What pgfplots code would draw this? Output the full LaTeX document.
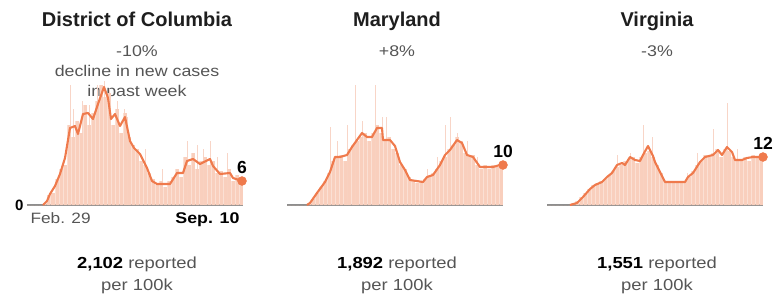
\documentclass[border=0pt]{standalone}
\usepackage{fontspec}
\setmainfont{Liberation Sans}[FakeStretch=1.15]
\newfontfamily\titlefont{Liberation Sans}
\usepackage{pgfplots}
\pgfplotsset{compat=1.18}
\definecolor{barc}{HTML}{F9CFBD}
\definecolor{spk}{HTML}{F8D5C7}
\definecolor{linec}{HTML}{EF7A4C}
\definecolor{basec}{HTML}{8E8E8E}
\definecolor{subc}{HTML}{555555}
\definecolor{titc}{HTML}{1E1E1E}
\pgfplotsset{panel/.style={scale only axis, width=216pt, height=132pt,
  xmin=0, xmax=216, ymin=0, ymax=33, enlargelimits=false,
  axis x line=bottom, axis y line=none, xtick=\empty, ytick=\empty,
  x axis line style={-, draw=basec, line width=2pt},
  clip=false, anchor=south west},
  bars/.style={ybar, bar width=3.5, bar shift=0pt, fill=barc, draw=none},
  spikes/.style={ycomb, draw=spk, line width=0.9pt, mark=none},
  avg/.style={linec, line width=2.1pt, line join=round, mark=none},
  enddot/.style={only marks, mark=*, mark size=4.5pt, mark options={fill=linec, draw=linec},
    every node near coord/.append style={font=\titlefont\bfseries\fontsize{17.5}{18}\selectfont, text=black, anchor=center, yshift=14pt}}
}
\begin{document}
\begin{tikzpicture}
\path[use as bounding box] (0,0) rectangle (777pt,295pt);
% titles
\foreach \cx/\t in {137/District of Columbia, 397/Maryland, 657/Virginia}{
  \node[anchor=base, font=\titlefont\bfseries\fontsize{20}{24}\selectfont, text=titc] at (\cx pt,268pt) {\t};
}
\node[anchor=base, font=\fontsize{15.5}{20}\selectfont, text=subc] at (137pt,238pt) {-10\%};
\node[anchor=base, font=\fontsize{15.5}{20}\selectfont, text=subc] at (137pt,218pt) {decline in new cases};
\node[anchor=base, font=\fontsize{15.5}{20}\selectfont, text=subc] at (137pt,198pt) {in past week};
\node[anchor=base, font=\fontsize{15.5}{20}\selectfont, text=subc] at (397pt,238pt) {+8\%};
\node[anchor=base, font=\fontsize{15.5}{20}\selectfont, text=subc] at (657pt,238pt) {-3\%};

% DC
\begin{axis}[panel, at={(27pt,90pt)}]
\addplot[spikes] coordinates {(43,30)(46,24)(55,26)(62,25)(70,30)(74,28)(77,31)(82,29)(90,26)(97,24)(100,22)(118,14)(135,9)(160,16)(170,15)(176,14)(183,16)(190,12)(200,13)};
\addplot[bars] coordinates {(2,0)(6,0)(10,0)(14,0)(18,0.5)(22,2.5)(26,3)(30,6.5)(34,9)(38,10)(42,20)(46,17)(50,21)(54,18)(58,25)(62,20)(66,23)(70,26)(74,30)(78,27)(82,28)(86,20)(90,24)(94,18)(98,23)(102,17)(106,15)(110,14)(114,11)(118,10)(122,8)(126,6.5)(130,5)(134,6)(138,4.5)(142,6)(146,7)(150,9)(154,7)(158,12)(162,10)(166,13)(170,9)(174,11)(178,12)(182,10)(186,11)(190,8)(194,8.5)(198,7)(202,9)(206,6)(210,7.5)(214,5.5)};
\addplot[avg] coordinates {(16,0)(20,1)(23,2.75)(28,4.75)(33,7.75)(38,11.75)(43,19.25)(48,19.75)(51,17.75)(56,22.75)(61,23)(66,21.5)(71,25.25)(77,29.5)(81,26.75)(84,21.5)(88,22.75)(93,19.75)(98,22)(103,16)(107,14.25)(113,12.75)(120,9.25)(125,6)(130,5.25)(143,5.25)(150,8)(156,8)(160,11)(166,11.5)(173,10.25)(183,11.5)(186,9.75)(193,7.75)(203,8)(206,6.75)(215,6)};
\addplot[enddot, nodes near coords={6}] coordinates {(215,6)};
\node[anchor=east, font=\titlefont\bfseries\fontsize{15}{15}\selectfont, text=black] at (axis cs:0,0) {0};
\end{axis}

% MD
\begin{axis}[panel, at={(287pt,90pt)}]
\addplot[spikes] coordinates {(43,19.5)(50,16)(60,20)(68,30)(75,21)(88,30)(95,22)(99,22)(140,9)(150,12)(158,20)(163,22)(170,18)(180,16)(190,12)};
\addplot[bars] coordinates {(2,0)(6,0)(10,0)(14,0)(18,0)(22,0.5)(26,1.5)(30,3)(34,4.5)(38,6)(42,8)(46,11)(50,12)(54,12.5)(58,11)(62,14)(66,15)(70,16)(74,17)(78,18)(82,16)(86,18)(90,20)(94,18)(98,16)(102,17)(106,14)(110,13)(114,10)(118,9)(122,7)(126,6)(130,5.5)(134,6)(138,6.5)(142,7)(146,8)(150,9)(154,11)(158,12)(162,14)(166,15)(170,17)(174,16)(178,13)(182,12)(186,12.5)(190,10)(194,9)(198,10)(202,9)(206,10)(210,9.5)(214,10)};
\addplot[avg] coordinates {(20,0)(23,0.5)(30,3)(38,5.75)(43,8.25)(48,12)(53,12)(60,12.5)(65,14.5)(70,16.25)(75,18)(80,17)(85,17)(90,19.25)(95,19.25)(96,16.25)(103,16.25)(108,14.75)(113,10.75)(118,8.75)(123,6.25)(136,5.75)(140,7)(146,7.5)(153,10)(158,12.5)(163,13.75)(170,16.25)(175,15.5)(180,12.5)(186,12)(193,9.5)(206,9.5)(213,10)(216,10)};
\addplot[enddot, nodes near coords={10}] coordinates {(216,10)};
\end{axis}

% VA
\begin{axis}[panel, at={(547pt,90pt)}]
\addplot[spikes] coordinates {(70,12.5)(83,13)(96,20)(105,17)(140,8)(150,13)(166,19)(180,25.5)(190,14)};
\addplot[bars] coordinates {(2,0)(6,0)(10,0)(14,0)(18,0)(22,0)(26,0.5)(30,1)(34,2)(38,3)(42,4)(46,5)(50,5.5)(54,6)(58,6.5)(62,7.5)(66,8.5)(70,9.5)(74,10)(78,11)(82,11.5)(86,12)(90,10.5)(94,12)(98,13)(102,13.5)(106,12)(110,10)(114,8)(118,6)(122,5.5)(126,5.5)(130,6)(134,5.5)(138,6)(142,7)(146,8.5)(150,10)(154,11)(158,12.5)(162,12)(166,13)(170,14)(174,12)(178,14)(182,13.5)(186,12)(190,11)(194,11.5)(198,12)(202,11)(206,12.5)(210,12)(214,12.5)};
\addplot[avg] coordinates {(23,0)(30,0.5)(36,2)(43,4)(48,5)(55,5.75)(60,7)(65,8)(70,10)(75,10.5)(78,10)(83,12)(88,11.25)(93,11)(96,12.5)(101,14.75)(106,12.25)(108,10.75)(113,8.25)(118,5.75)(138,5.75)(141,7)(146,8)(153,10.75)(158,12)(166,12.5)(171,13.75)(175,12.5)(180,14.5)(185,13.25)(188,11.25)(195,11.25)(200,11.75)(206,12)(216,12)};
\addplot[enddot, nodes near coords={12}] coordinates {(216,12)};
\end{axis}

% date labels
\node[anchor=base west, font=\fontsize{15}{18}\selectfont, text=subc] at (27pt,72pt) {Feb. 29};
\node[anchor=base east, font=\bfseries\fontsize{15.5}{18}\selectfont, text=black] at (243pt,72pt) {Sep. 10};

% bottom totals
\foreach \cx/\v in {137/{2,102}, 397/{1,892}, 657/{1,551}}{
  \node[anchor=base, font=\fontsize{16}{20}\selectfont, text=subc] at (\cx pt,27pt) {\textcolor{black}{\bfseries\v} reported};
  \node[anchor=base, font=\fontsize{16}{20}\selectfont, text=subc] at (\cx pt,5pt) {per 100k};
}
\end{tikzpicture}
\end{document}
